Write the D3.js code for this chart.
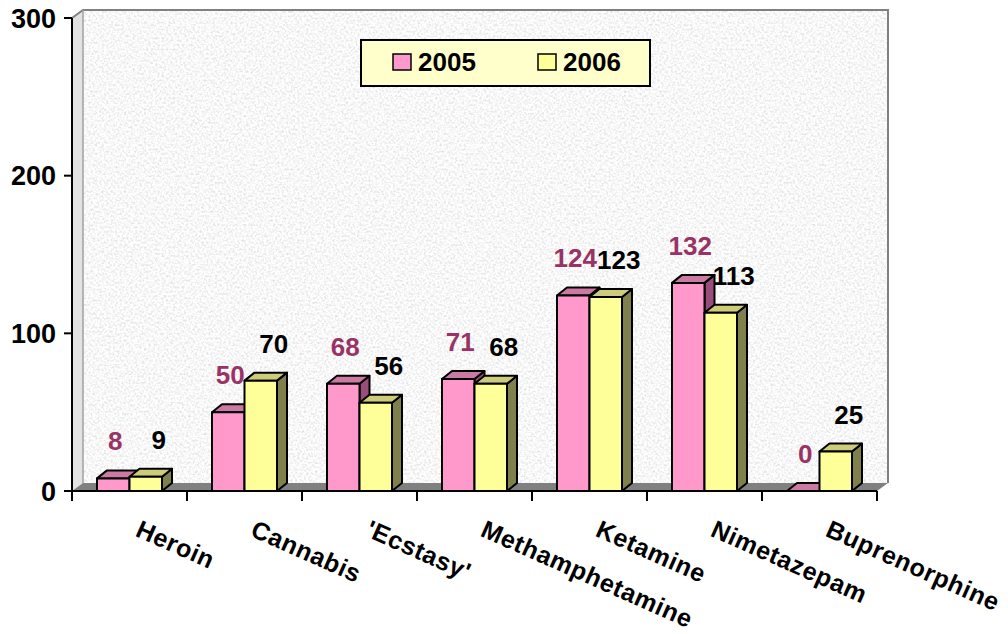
<!DOCTYPE html>
<html>
<head>
<meta charset="utf-8">
<script src="https://cdn.jsdelivr.net/npm/d3@7"></script>
<style>
  body { margin: 0; background: #fff; }
  svg { display: block; font-family: "Liberation Sans", Arial, sans-serif; font-weight: bold; }
</style>
</head>
<body>
<svg id="chart" width="1008" height="634"></svg>
<script>
var categories = ["Heroin", "Cannabis", "'Ecstasy'", "Methamphetamine", "Ketamine", "Nimetazepam", "Buprenorphine"];
var series = ["2005", "2006"];
var values2005 = [8, 50, 68, 71, 124, 132, 0];
var values2006 = [9, 70, 56, 68, 123, 113, 25];
var yTicks = [0, 100, 200, 300];

var seriesValues = [values2005, values2006];
var front = ["#FF99CC", "#FFFF99"];
var top3d = ["#CC7AA3", "#CCCC7A"];
var side3d = ["#994D7A", "#80804D"];
var labelColor = ["#993366", "#000000"];

var svg = d3.select("#chart");
var left = 72, right = 877, bottom = 491, topY = 18;
var wallDx = 11, wallDy = -8;
var barDx = 10, barDy = -8;

var x = d3.scaleBand().domain(categories).range([left, right]);
var xs = d3.scaleBand().domain(series).range([25, 90]);
var y = d3.scaleLinear().domain([0, 300]).range([bottom, topY]);

// speckled stone texture for the walls
var defs = svg.append("defs");
var f = defs.append("filter").attr("id", "stone")
  .attr("x", 0).attr("y", 0).attr("width", 1).attr("height", 1);
f.append("feTurbulence").attr("type", "fractalNoise")
  .attr("baseFrequency", 0.45).attr("numOctaves", 2).attr("seed", 7);
f.append("feColorMatrix").attr("type", "matrix")
  .attr("values", "0.55 0 0 0 0.66  0.55 0 0 0 0.66  0.55 0 0 0 0.66  0 0 0 0 1");

// side wall
svg.append("polygon")
  .attr("points", [[left, bottom], [left, topY], [left + wallDx, topY + wallDy], [left + wallDx, bottom + wallDy]].join(" "))
  .attr("fill", "#e2e2e2");

// back wall
svg.append("rect")
  .attr("x", left + wallDx).attr("y", topY + wallDy)
  .attr("width", right - left).attr("height", bottom - topY)
  .attr("fill", "#fff").attr("filter", "url(#stone)");
svg.append("path")
  .attr("d", "M" + left + "," + topY + "L" + (left + wallDx) + "," + (topY + wallDy) +
    "H" + (right + wallDx) + "V" + (bottom + wallDy))
  .attr("fill", "none").attr("stroke", "#808080").attr("stroke-width", 2);
svg.append("line")
  .attr("x1", left + wallDx).attr("x2", left + wallDx)
  .attr("y1", topY + wallDy).attr("y2", bottom + wallDy)
  .attr("stroke", "#a0a0a0").attr("stroke-width", 1.5);

// floor
svg.append("polygon")
  .attr("points", [[left, bottom], [left + wallDx, bottom + wallDy], [right + wallDx, bottom + wallDy], [right, bottom]].join(" "))
  .attr("fill", "#808080");

// legend
var lg = svg.append("g").attr("transform", "translate(361,40)");
lg.append("rect").attr("width", 289).attr("height", 46)
  .attr("fill", "#FFFFCC").attr("stroke", "#000").attr("stroke-width", 2);
series.forEach(function(s, i) {
  var g = lg.append("g").attr("transform", "translate(" + (32 + i * 145) + ",0)");
  g.append("rect").attr("x", 0).attr("y", 14).attr("width", 18).attr("height", 16)
    .attr("fill", front[i]).attr("stroke", "#000").attr("stroke-width", 1.5);
  g.append("text").attr("x", 25).attr("y", 31).attr("font-size", 26).text(s);
});

// bars
categories.forEach(function(c, ci) {
  series.forEach(function(s, si) {
    var v = seriesValues[si][ci];
    var x0 = x(c) + xs(s), w = xs.bandwidth();
    var yt = y(v), yb = y(0);
    var g = svg.append("g").attr("stroke", "#000").attr("stroke-width", 2).attr("stroke-linejoin", "round");
    g.append("polygon")
      .attr("points", [[x0 + w, yb], [x0 + w, yt], [x0 + w + barDx, yt + barDy], [x0 + w + barDx, yb + barDy]].join(" "))
      .attr("fill", side3d[si]);
    g.append("polygon")
      .attr("points", [[x0, yt], [x0 + barDx, yt + barDy], [x0 + w + barDx, yt + barDy], [x0 + w, yt]].join(" "))
      .attr("fill", top3d[si]);
    if (v > 0) {
      g.append("rect").attr("x", x0).attr("y", yt).attr("width", w).attr("height", yb - yt)
        .attr("fill", front[si]);
    }
  });
});

// data labels
categories.forEach(function(c, ci) {
  series.forEach(function(s, si) {
    var v = seriesValues[si][ci];
    svg.append("text")
      .attr("x", x(c) + xs(s) + xs.bandwidth() / 2 + (si === 0 ? 2 : 13))
      .attr("y", y(v) - 28)
      .attr("text-anchor", "middle")
      .attr("font-size", 26)
      .attr("fill", labelColor[si])
      .text(v);
  });
});

// axes
var ax = svg.append("g").attr("stroke", "#000").attr("stroke-width", 2);
ax.append("line").attr("x1", left).attr("x2", left).attr("y1", topY).attr("y2", bottom);
ax.append("line").attr("x1", left).attr("x2", right).attr("y1", bottom).attr("y2", bottom);
yTicks.forEach(function(t) {
  ax.append("line").attr("x1", left - 8).attr("x2", left).attr("y1", y(t)).attr("y2", y(t));
  svg.append("text").attr("x", left - 16).attr("y", y(t)).attr("dy", "0.36em")
    .attr("text-anchor", "end").attr("font-size", 27).text(t);
});
categories.concat(["end"]).forEach(function(c, i) {
  var xx = i < categories.length ? x(c) : right;
  ax.append("line").attr("x1", xx).attr("x2", xx).attr("y1", bottom).attr("y2", bottom + 10);
});
categories.forEach(function(c) {
  svg.append("text")
    .attr("transform", "translate(" + (x(c) + x.bandwidth() / 2 + 12) + ",519) rotate(24)")
    .attr("dy", "0.72em")
    .attr("font-size", 25)
    .attr("letter-spacing", 0.6)
    .text(c);
});
</script>
</body>
</html>
